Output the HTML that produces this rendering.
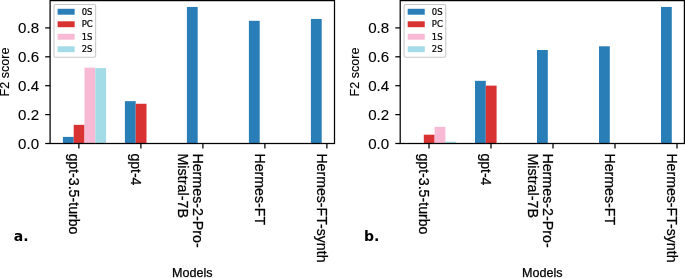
<!DOCTYPE html>
<html><head><meta charset="utf-8"><title>F2 score by model</title>
<style>
html,body{margin:0;padding:0;background:#fff;}
body{width:685px;height:278px;overflow:hidden;}
svg{display:block;}
text{fill:#000;}
.yt{font-family:"Liberation Sans",sans-serif;font-size:15.1px;stroke:#000;stroke-width:0.12px;}
.xt{font-family:"Liberation Sans",sans-serif;font-size:14.6px;stroke:#000;stroke-width:0.25px;}
.yl{font-family:"Liberation Sans",sans-serif;font-size:12.57px;stroke:#000;stroke-width:0.15px;}
.xl{font-family:"Liberation Sans",sans-serif;font-size:12.57px;stroke:#000;stroke-width:0.25px;}
.lg{font-family:"DejaVu Sans",sans-serif;font-size:8.45px;stroke:#000;stroke-width:0.22px;}
.pl{font-family:"DejaVu Sans",sans-serif;font-weight:bold;font-size:14.05px;}
</style></head><body>
<svg width="685" height="278" viewBox="0 0 685 278">
<rect width="685" height="278" fill="#fff"/>
<clipPath id="c0"><rect x="50.1" y="0.6" width="284.40" height="142.90"/></clipPath>
<g clip-path="url(#c0)">
<rect x="62.90" y="136.90" width="10.8" height="6.60" fill="#2a7eb8"/>
<rect x="73.70" y="124.86" width="10.8" height="18.64" fill="#d83233"/>
<rect x="84.50" y="67.64" width="10.8" height="75.86" fill="#f7b9d4"/>
<rect x="95.30" y="68.07" width="10.8" height="75.43" fill="#a3dce6"/>
<rect x="124.90" y="101.16" width="10.8" height="42.34" fill="#2a7eb8"/>
<rect x="135.70" y="103.76" width="10.8" height="39.74" fill="#d83233"/>
<rect x="186.90" y="6.95" width="10.8" height="136.55" fill="#2a7eb8"/>
<rect x="248.90" y="20.82" width="10.8" height="122.68" fill="#2a7eb8"/>
<rect x="310.90" y="18.94" width="10.8" height="124.56" fill="#2a7eb8"/>
</g>
<rect x="50.1" y="0.6" width="284.40" height="142.90" fill="none" stroke="#000" stroke-width="1.25"/>
<line x1="45.20" x2="50.10" y1="143.50" y2="143.50" stroke="#000" stroke-width="1.25"/>
<text class="yt" x="39.10" y="149.00" text-anchor="end">0.0</text>
<line x1="45.20" x2="50.10" y1="114.60" y2="114.60" stroke="#000" stroke-width="1.25"/>
<text class="yt" x="39.10" y="120.10" text-anchor="end">0.2</text>
<line x1="45.20" x2="50.10" y1="85.70" y2="85.70" stroke="#000" stroke-width="1.25"/>
<text class="yt" x="39.10" y="91.20" text-anchor="end">0.4</text>
<line x1="45.20" x2="50.10" y1="56.80" y2="56.80" stroke="#000" stroke-width="1.25"/>
<text class="yt" x="39.10" y="62.30" text-anchor="end">0.6</text>
<line x1="45.20" x2="50.10" y1="27.90" y2="27.90" stroke="#000" stroke-width="1.25"/>
<text class="yt" x="39.10" y="33.40" text-anchor="end">0.8</text>
<line x1="78.90" x2="78.90" y1="143.5" y2="148.40" stroke="#000" stroke-width="1.25"/>
<text class="xt" transform="translate(69.20,153.40) rotate(90) scale(0.9711,1)">gpt-3.5-turbo</text>
<line x1="140.90" x2="140.90" y1="143.5" y2="148.40" stroke="#000" stroke-width="1.25"/>
<text class="xt" transform="translate(131.20,153.40) rotate(90) scale(0.9630,1)">gpt-4</text>
<line x1="202.90" x2="202.90" y1="143.5" y2="148.40" stroke="#000" stroke-width="1.25"/>
<text class="xt" transform="translate(193.20,153.40) rotate(90) scale(0.9772,1)">Hermes-2-Pro-</text>
<text class="xt" transform="translate(177.70,153.40) rotate(90) scale(0.9833,1)">Mistral-7B</text>
<line x1="264.90" x2="264.90" y1="143.5" y2="148.40" stroke="#000" stroke-width="1.25"/>
<text class="xt" transform="translate(255.20,153.40) rotate(90) scale(0.9732,1)">Hermes-FT</text>
<line x1="326.90" x2="326.90" y1="143.5" y2="148.40" stroke="#000" stroke-width="1.25"/>
<text class="xt" transform="translate(317.20,153.40) rotate(90) scale(0.9681,1)">Hermes-FT-synth</text>
<text class="yl" transform="translate(9.10,72.05) rotate(-90)" text-anchor="middle">F2 score</text>
<text class="xl" x="192.30" y="277.4" text-anchor="middle">Models</text>
<rect x="54.00" y="4.4" width="41.65" height="52.9" rx="1.6" fill="#fff" fill-opacity="0.8" stroke="#c8c8c8" stroke-opacity="1" stroke-width="1.05"/>
<rect x="57.60" y="8.80" width="17.05" height="5.9" fill="#2a7eb8"/>
<text class="lg" x="81.70" y="14.75">0S</text>
<rect x="57.60" y="21.30" width="17.05" height="5.9" fill="#d83233"/>
<text class="lg" x="81.70" y="27.25">PC</text>
<rect x="57.60" y="33.80" width="17.05" height="5.9" fill="#f7b9d4"/>
<text class="lg" x="81.70" y="39.75">1S</text>
<rect x="57.60" y="46.30" width="17.05" height="5.9" fill="#a3dce6"/>
<text class="lg" x="81.70" y="52.25">2S</text>
<text class="pl" x="13.80" y="240.55">a.</text>
<clipPath id="c1"><rect x="400.2" y="0.6" width="284.20" height="142.90"/></clipPath>
<g clip-path="url(#c1)">
<rect x="423.80" y="134.69" width="10.8" height="8.81" fill="#d83233"/>
<rect x="434.60" y="126.80" width="10.8" height="16.70" fill="#f7b9d4"/>
<rect x="445.40" y="141.69" width="10.8" height="1.81" fill="#a3dce6"/>
<rect x="475.00" y="80.84" width="10.8" height="62.66" fill="#2a7eb8"/>
<rect x="485.80" y="85.63" width="10.8" height="57.87" fill="#d83233"/>
<rect x="537.00" y="50.01" width="10.8" height="93.49" fill="#2a7eb8"/>
<rect x="599.00" y="46.29" width="10.8" height="97.21" fill="#2a7eb8"/>
<rect x="661.00" y="6.95" width="10.8" height="136.55" fill="#2a7eb8"/>
</g>
<rect x="400.2" y="0.6" width="284.20" height="142.90" fill="none" stroke="#000" stroke-width="1.25"/>
<line x1="395.30" x2="400.20" y1="143.50" y2="143.50" stroke="#000" stroke-width="1.25"/>
<text class="yt" x="389.20" y="149.00" text-anchor="end">0.0</text>
<line x1="395.30" x2="400.20" y1="114.60" y2="114.60" stroke="#000" stroke-width="1.25"/>
<text class="yt" x="389.20" y="120.10" text-anchor="end">0.2</text>
<line x1="395.30" x2="400.20" y1="85.70" y2="85.70" stroke="#000" stroke-width="1.25"/>
<text class="yt" x="389.20" y="91.20" text-anchor="end">0.4</text>
<line x1="395.30" x2="400.20" y1="56.80" y2="56.80" stroke="#000" stroke-width="1.25"/>
<text class="yt" x="389.20" y="62.30" text-anchor="end">0.6</text>
<line x1="395.30" x2="400.20" y1="27.90" y2="27.90" stroke="#000" stroke-width="1.25"/>
<text class="yt" x="389.20" y="33.40" text-anchor="end">0.8</text>
<line x1="429.00" x2="429.00" y1="143.5" y2="148.40" stroke="#000" stroke-width="1.25"/>
<text class="xt" transform="translate(419.30,153.40) rotate(90) scale(0.9711,1)">gpt-3.5-turbo</text>
<line x1="491.00" x2="491.00" y1="143.5" y2="148.40" stroke="#000" stroke-width="1.25"/>
<text class="xt" transform="translate(481.30,153.40) rotate(90) scale(0.9630,1)">gpt-4</text>
<line x1="553.00" x2="553.00" y1="143.5" y2="148.40" stroke="#000" stroke-width="1.25"/>
<text class="xt" transform="translate(543.30,153.40) rotate(90) scale(0.9772,1)">Hermes-2-Pro-</text>
<text class="xt" transform="translate(527.80,153.40) rotate(90) scale(0.9833,1)">Mistral-7B</text>
<line x1="615.00" x2="615.00" y1="143.5" y2="148.40" stroke="#000" stroke-width="1.25"/>
<text class="xt" transform="translate(605.30,153.40) rotate(90) scale(0.9732,1)">Hermes-FT</text>
<line x1="677.00" x2="677.00" y1="143.5" y2="148.40" stroke="#000" stroke-width="1.25"/>
<text class="xt" transform="translate(667.30,153.40) rotate(90) scale(0.9681,1)">Hermes-FT-synth</text>
<text class="yl" transform="translate(359.20,72.05) rotate(-90)" text-anchor="middle">F2 score</text>
<text class="xl" x="542.30" y="277.4" text-anchor="middle">Models</text>
<rect x="404.10" y="4.4" width="41.65" height="52.9" rx="1.6" fill="#fff" fill-opacity="0.8" stroke="#c8c8c8" stroke-opacity="1" stroke-width="1.05"/>
<rect x="407.70" y="8.80" width="17.05" height="5.9" fill="#2a7eb8"/>
<text class="lg" x="431.80" y="14.75">0S</text>
<rect x="407.70" y="21.30" width="17.05" height="5.9" fill="#d83233"/>
<text class="lg" x="431.80" y="27.25">PC</text>
<rect x="407.70" y="33.80" width="17.05" height="5.9" fill="#f7b9d4"/>
<text class="lg" x="431.80" y="39.75">1S</text>
<rect x="407.70" y="46.30" width="17.05" height="5.9" fill="#a3dce6"/>
<text class="lg" x="431.80" y="52.25">2S</text>
<text class="pl" x="363.90" y="240.55">b.</text>
</svg>
</body></html>
